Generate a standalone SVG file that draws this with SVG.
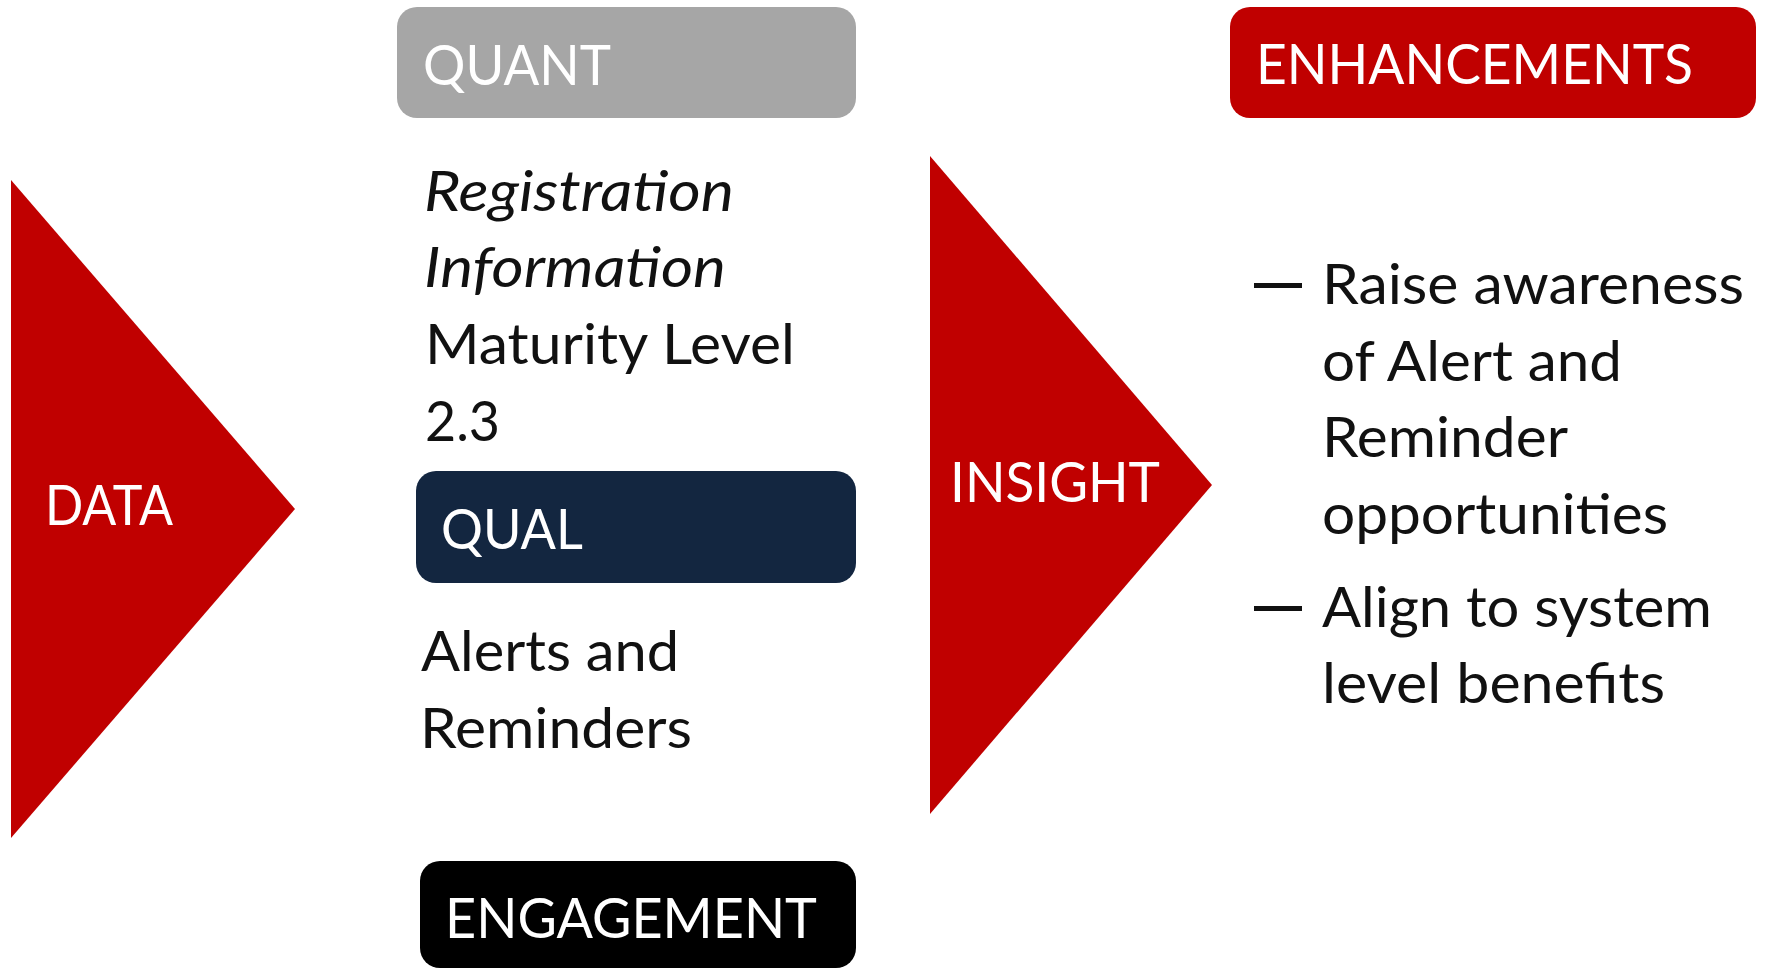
<svg xmlns="http://www.w3.org/2000/svg" width="1769" height="970" viewBox="0 0 1769 970">
<style>
.t{font-family:Lato,"Open Sans","Liberation Sans",sans-serif;font-size:56px}
.w{fill:#ffffff}
.b{fill:#111111}
.i{font-style:italic}
.red{fill:#C00000}
</style>
<rect width="1769" height="970" fill="#ffffff"/>
<g id="data">
<polygon class="red" points="11,180 295,509 11,838"/>
<text class="t w" x="45" y="525" textLength="128" lengthAdjust="spacingAndGlyphs">DATA</text>
</g>
<g id="quant">
<rect x="397" y="7" width="459" height="111" rx="20" fill="#A6A6A6"/>
<text class="t w" x="423" y="85" textLength="188" lengthAdjust="spacingAndGlyphs">QUANT</text>
</g>
<g id="quant-text">
<text class="t b i" x="424" y="211" textLength="310" lengthAdjust="spacingAndGlyphs">Registration</text>
<text class="t b i" x="424" y="287" textLength="302" lengthAdjust="spacingAndGlyphs">Information</text>
<text class="t b" x="425" y="364" textLength="370" lengthAdjust="spacingAndGlyphs">Maturity Level</text>
<text class="t b" x="425" y="441" textLength="75" lengthAdjust="spacingAndGlyphs">2.3</text>
</g>
<g id="qual">
<rect x="416" y="471" width="440" height="112" rx="20" fill="#132640"/>
<text class="t w" x="441" y="549" textLength="142" lengthAdjust="spacingAndGlyphs">QUAL</text>
</g>
<g id="qual-text">
<text class="t b" x="421" y="671" textLength="258" lengthAdjust="spacingAndGlyphs">Alerts and</text>
<text class="t b" x="420" y="748" textLength="272" lengthAdjust="spacingAndGlyphs">Reminders</text>
</g>
<g id="engagement">
<rect x="420" y="861" width="436" height="107" rx="20" fill="#000000"/>
<text class="t w" x="445" y="938" textLength="372" lengthAdjust="spacingAndGlyphs">ENGAGEMENT</text>
</g>
<g id="insight">
<polygon class="red" points="930,156 1212,485 930,814"/>
<text class="t w" x="950" y="502" textLength="210" lengthAdjust="spacingAndGlyphs">INSIGHT</text>
</g>
<g id="enhancements">
<rect x="1230" y="7" width="526" height="111" rx="20" fill="#C00000"/>
<text class="t w" x="1256" y="84" textLength="437" lengthAdjust="spacingAndGlyphs">ENHANCEMENTS</text>
</g>
<g id="enhancement-list">
<rect x="1254" y="283" width="48" height="5" class="b"/>
<text class="t b" x="1322" y="304" textLength="422" lengthAdjust="spacingAndGlyphs">Raise awareness</text>
<text class="t b" x="1322" y="381" textLength="300" lengthAdjust="spacingAndGlyphs">of Alert and</text>
<text class="t b" x="1322" y="457" textLength="246" lengthAdjust="spacingAndGlyphs">Reminder</text>
<text class="t b" x="1322" y="534" textLength="346" lengthAdjust="spacingAndGlyphs">opportunities</text>
<rect x="1254" y="606" width="48" height="5" class="b"/>
<text class="t b" x="1322" y="627" textLength="390" lengthAdjust="spacingAndGlyphs">Align to system</text>
<text class="t b" x="1322" y="703" textLength="343" lengthAdjust="spacingAndGlyphs">level benefits</text>
</g>
</svg>
